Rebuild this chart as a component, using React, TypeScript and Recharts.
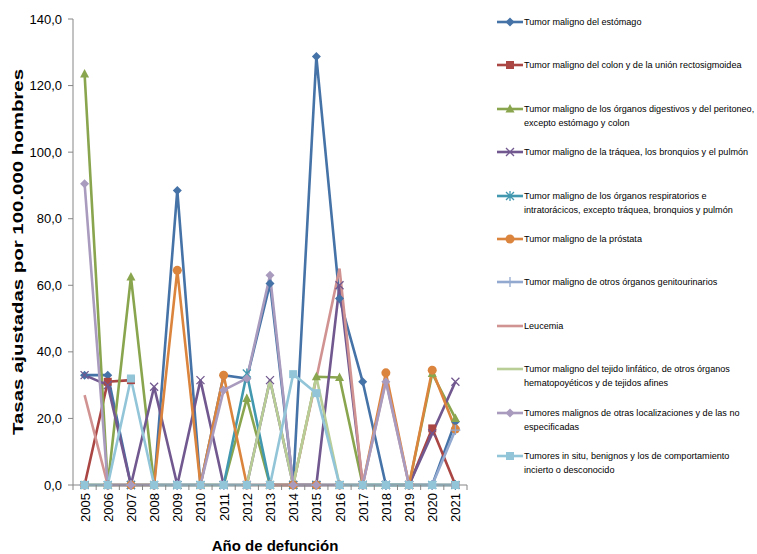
import React from "react"
import { LineChart, Line, XAxis, YAxis } from "recharts"

const years = ["2005", "2006", "2007", "2008", "2009", "2010", "2011", "2012", "2013", "2014", "2015", "2016", "2017", "2018", "2019", "2020", "2021"]

const seriesNames = [
  "Tumor maligno del estómago",
  "Tumor maligno del colon y de la unión rectosigmoidea",
  "Tumor maligno de los órganos digestivos y del peritoneo,\nexcepto estómago y colon",
  "Tumor maligno de la tráquea, los bronquios y el pulmón",
  "Tumor maligno de los órganos respiratorios e\nintratorácicos, excepto tráquea, bronquios y pulmón",
  "Tumor maligno de la próstata",
  "Tumor maligno de otros órganos genitourinarios",
  "Leucemia",
  "Tumor maligno del tejido linfático, de otros órganos\nhematopoyéticos y de tejidos afines",
  "Tumores malignos de otras localizaciones y de las no\nespecificadas",
  "Tumores in situ, benignos y los de comportamiento\nincierto o desconocido",
]

const estomago = [33, 33, 0, 0, 88.5, 0, 33, 32, 60.5, 0, 128.7, 56, 31, 0, 0, 0, 19]
const colon = [0, 31, 31.5, null, null, null, null, null, 0, 0, 0, null, null, null, 0, 17, 0]
const digestivos = [123.5, 0, 62.5, 0, 0, 0, 0, 26, 0, 0, 32.5, 32.3, 0, 0, 0, 33.5, 20]
const traquea = [33, 30, 0, 29.5, 0, 31.5, 0, 0, 31.5, 0, 0, 60, 0, 0, 0, 15.5, 31]
const respiratorios = [0, 0, 0, 0, 0, 0, 0, 33.5, 0, 0, 0, 0, 0, 0, 0, 0, 0]
const prostata = [0, 0, 0, 0, 64.5, 0, 33, 0, 0, 0, 0, 0, 0, 33.7, 0, 34.5, 16.8]
const genitourinarios = [0, 0, 0, 0, 0, 0, 0, 0, 0, 0, 0, 0, 0, 0, 0, 0, 16.5]
const leucemia = [27, 0, 0, 0, 0, 0, 0, 0, 0, 0, 32, 65, 0, 31.5, 0, 0, 0]
const linfatico = [0, 0, 0, 0, 0, 0, 0, 0, 31.5, 0, 32.5, 0, 0, 0, 0, 0, 0]
const otras = [90.5, 0, 0, 0, 0, 0, 28.5, 32, 63, 0, 0, 0, 0, 31, 0, 0, 0]
const insitu = [0, 0, 32, 0, 0, 0, 0, 0, 0, 33.3, 27.6, 0, 0, 0, 0, 0, 0]

const yTicks = [0, 20, 40, 60, 80, 100, 120, 140]

const allValues = [estomago, colon, digestivos, traquea, respiratorios, prostata, genitourinarios, leucemia, linfatico, otras, insitu]
const colors = ["#4572A7", "#AA4643", "#89A54E", "#71588F", "#4198AF", "#DB843D", "#93A9CF", "#D19392", "#B9CD96", "#A99BBD", "#92C5D8"]
const markers = ["diamond", "square", "triangle", "x", "star", "circle", "plus", "none", "none", "diamond", "square"]

const data = years.map((year, i) => {
  const row: Record<string, any> = { year }
  allValues.forEach((vals, s) => { row["s" + s] = vals[i] })
  return row
})

const FONT = "'Liberation Sans', Arial, sans-serif"
const AXIS = "#868686"

function drawMarker(kind: string, cx: number, cy: number, color: string) {
  switch (kind) {
    case "diamond":
      return <path d={`M${cx},${cy - 4.5}L${cx + 4.5},${cy}L${cx},${cy + 4.5}L${cx - 4.5},${cy}Z`} fill={color} />
    case "square":
      return <rect x={cx - 4} y={cy - 4} width={8} height={8} fill={color} />
    case "triangle":
      return <path d={`M${cx},${cy - 5}L${cx + 4.5},${cy + 3.5}L${cx - 4.5},${cy + 3.5}Z`} fill={color} />
    case "x":
      return <path d={`M${cx - 4},${cy - 4}L${cx + 4},${cy + 4}M${cx + 4},${cy - 4}L${cx - 4},${cy + 4}`} stroke={color} strokeWidth={1.3} />
    case "star":
      return <path d={`M${cx - 4},${cy - 4}L${cx + 4},${cy + 4}M${cx + 4},${cy - 4}L${cx - 4},${cy + 4}M${cx},${cy - 5}L${cx},${cy + 5}`} stroke={color} strokeWidth={1.3} />
    case "circle":
      return <circle cx={cx} cy={cy} r={4.5} fill={color} />
    case "plus":
      return <path d={`M${cx - 5},${cy}L${cx + 5},${cy}M${cx},${cy - 5}L${cx},${cy + 5}`} stroke={color} strokeWidth={1.3} />
    default:
      return null
  }
}

const makeDot = (s: number) => (p: any) => {
  if (p.value == null || p.cy == null || markers[s] === "none") return <g key={p.key} />
  return <g key={p.key}>{drawMarker(markers[s], p.cx, p.cy, colors[s])}</g>
}

const XTick = (props: any) => {
  const { x, y, payload, index } = props
  const off = payload.offset ?? 11.6
  return (
    <g>
      <line x1={x - off} x2={x - off} y1={y} y2={y + 5} stroke={AXIS} />
      {index === years.length - 1 && <line x1={x + off} x2={x + off} y1={y} y2={y + 5} stroke={AXIS} />}
      <text
        transform={`translate(${x + 5},${y + 8}) rotate(-90)`}
        textAnchor="end"
        fontSize={13}
        fontFamily={FONT}
        fill="#000"
      >
        {payload.value}
      </text>
    </g>
  )
}

function LegendBox() {
  return (
    <div style={{ position: "absolute", left: 497, top: 15, width: 260, fontFamily: FONT, fontSize: 9.1, color: "#000" }}>
      {seriesNames.map((name, s) => (
        <div key={s} style={{ height: 43.4, display: "flex", alignItems: "flex-start" }}>
          <svg width={27} height={14} style={{ flexShrink: 0 }}>
            <line x1={0} x2={26} y1={7} y2={7} stroke={colors[s]} strokeWidth={2.6} />
            {drawMarker(markers[s], 13, 7, colors[s])}
          </svg>
          <div style={{ whiteSpace: "pre", lineHeight: "14px" }}>{name}</div>
        </div>
      ))}
    </div>
  )
}

export default function App() {
  return (
    <div style={{ position: "relative", width: 757, height: 554, background: "#fff", fontFamily: FONT, overflow: "hidden" }}>
      <style>{`body{margin:0}`}</style>
      <LineChart width={757} height={554} data={data} margin={{ top: 19, right: 290, bottom: 9, left: 0 }}>
        <XAxis
          dataKey="year"
          scale="band"
          interval={0}
          height={60}
          tickSize={0}
          tickMargin={0}
          axisLine={{ stroke: AXIS }}
          tickLine={false}
          tick={<XTick />}
          label={{
            content: () => (
              <text x={275} y={551} textAnchor="middle" fontSize={15} fontWeight="bold" fontFamily={FONT} fill="#000">
                Año de defunción
              </text>
            ),
          }}
        />
        <YAxis
          domain={[0, 140]}
          ticks={yTicks}
          width={73}
          tickSize={5}
          tickMargin={6}
          axisLine={{ stroke: AXIS }}
          tickLine={{ stroke: AXIS }}
          tick={{ fontSize: 13, fill: "#000", fontFamily: FONT }}
          tickFormatter={(v: number) => v.toFixed(1).replace(".", ",")}
          label={{
            content: () => (
              <text
                transform="translate(23,252) rotate(-90)"
                textAnchor="middle"
                fontSize={15}
                fontWeight="bold"
                fontFamily={FONT}
                fill="#000"
                textLength={366}
                lengthAdjust="spacingAndGlyphs"
              >
                Tasas ajustadas por 100.000 hombres
              </text>
            ),
          }}
        />
        {seriesNames.map((name, s) => (
          <Line
            key={s}
            type="linear"
            dataKey={"s" + s}
            name={name}
            stroke={colors[s]}
            strokeWidth={2.6}
            dot={makeDot(s)}
            activeDot={false}
            isAnimationActive={false}
          />
        ))}
      </LineChart>
      <LegendBox />
    </div>
  )
}
